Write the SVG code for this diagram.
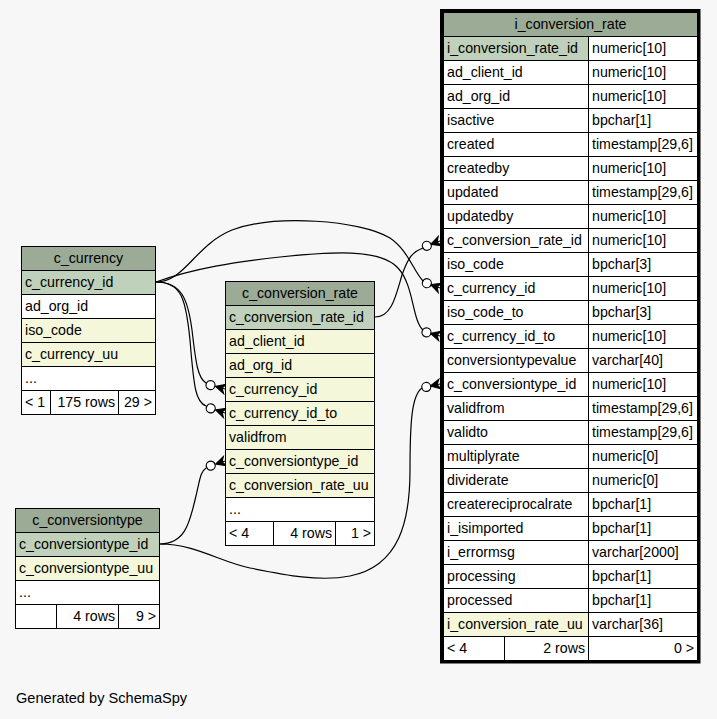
<svg xmlns="http://www.w3.org/2000/svg" width="717" height="719" viewBox="0 0 717 719">
<style>
.bg{fill:#f7f7f7}
rect.c{stroke:#000;stroke-width:1}
.h{fill:#9bab96}
.pk{fill:#bfd1bb}
.col{fill:#f4f7da}
.w{fill:#ffffff}
text{font-family:"Liberation Sans",Arial,sans-serif;font-size:14.2px;fill:#000}
.m{text-anchor:middle}
.r{text-anchor:end}
.e{fill:none;stroke:#000;stroke-width:1.2}
.dot{fill:#fff;stroke:#000;stroke-width:1.2}
</style>
<defs>
<g id="crow">
<path d="M0,-5 L-10,0 L0,5 L-3,0 Z M0,0 L-10,0" fill="#000" stroke="#000" stroke-width="1"/>
</g>
</defs>
<rect class="bg" x="0" y="0" width="717" height="719"/>

<g id="connectors">
<path class="e" d="M156,282 C182,282 188,300 192,330 C196,365 198,378 206,383"/>
<path class="e" d="M156,282 C182,282 186,300 190,340 C194,390 196,402 206,406"/>
<path class="e" d="M160,544 C186,544 190,520 195,500 C200,480 200,472 206,468"/>
<path class="e" d="M156,282 C185,282 195,245 232,230 C275,214 360,220 390,238 C408,250 414,272 423,281"/>
<path class="e" d="M156,282 C195,268 235,262 280,257 C330,252 380,248 398,268 C414,285 412,320 423,330"/>
<path class="e" d="M375,317 C392,317 396,295 402,275 C408,258 412,252 423,248"/>
<path class="e" d="M160,544 C195,544 220,562 250,568 C285,575 320,582 350,576 C400,566 410,520 410,470 C410,420 412,395 422,388"/>
<g transform="translate(225,389) rotate(15)"><use href="#crow"/><circle class="dot" cx="-15" cy="0" r="4.5"/></g>
<g transform="translate(225,413) rotate(18)"><use href="#crow"/><circle class="dot" cx="-15" cy="0" r="4.5"/></g>
<g transform="translate(225,461) rotate(-18)"><use href="#crow"/><circle class="dot" cx="-15" cy="0" r="4.5"/></g>
<g transform="translate(440,288) rotate(20)"><use href="#crow"/><circle class="dot" cx="-14" cy="0" r="4.5"/></g>
<g transform="translate(440,336) rotate(15)"><use href="#crow"/><circle class="dot" cx="-14" cy="0" r="4.5"/></g>
<g transform="translate(440,241) rotate(-20)"><use href="#crow"/><circle class="dot" cx="-14" cy="0" r="4.5"/></g>
<g transform="translate(440,384) rotate(-12)"><use href="#crow"/><circle class="dot" cx="-14" cy="0" r="4.5"/></g>
</g>

<g id="c_currency">
<rect class="c h" x="21.5" y="246.5" width="134" height="24"/>
<text class="m" x="88.5" y="263">c_currency</text>
<rect class="c pk" x="21.5" y="270.5" width="134" height="24"/>
<text x="25" y="287">c_currency_id</text>
<rect class="c w" x="21.5" y="294.5" width="134" height="24"/>
<text x="25" y="311">ad_org_id</text>
<rect class="c col" x="21.5" y="318.5" width="134" height="24"/>
<text x="25" y="335">iso_code</text>
<rect class="c col" x="21.5" y="342.5" width="134" height="24"/>
<text x="25" y="359">c_currency_uu</text>
<rect class="c w" x="21.5" y="366.5" width="134" height="24"/>
<text x="25" y="383">...</text>
<rect class="c w" x="21.5" y="390.5" width="29" height="24"/>
<rect class="c w" x="50.5" y="390.5" width="68" height="24"/>
<rect class="c w" x="118.5" y="390.5" width="37" height="24"/>
<text x="25" y="407">&lt; 1</text>
<text class="r" x="115" y="407">175 rows</text>
<text class="r" x="152" y="407">29 &gt;</text>
</g>

<g id="c_conversion_rate">
<rect class="c h" x="225.5" y="281.5" width="149" height="24"/>
<text class="m" x="300" y="298">c_conversion_rate</text>
<rect class="c pk" x="225.5" y="305.5" width="149" height="24"/>
<text x="229" y="322">c_conversion_rate_id</text>
<rect class="c col" x="225.5" y="329.5" width="149" height="24"/>
<text x="229" y="346">ad_client_id</text>
<rect class="c col" x="225.5" y="353.5" width="149" height="24"/>
<text x="229" y="370">ad_org_id</text>
<rect class="c col" x="225.5" y="377.5" width="149" height="24"/>
<text x="229" y="394">c_currency_id</text>
<rect class="c col" x="225.5" y="401.5" width="149" height="24"/>
<text x="229" y="418">c_currency_id_to</text>
<rect class="c col" x="225.5" y="425.5" width="149" height="24"/>
<text x="229" y="442">validfrom</text>
<rect class="c col" x="225.5" y="449.5" width="149" height="24"/>
<text x="229" y="466">c_conversiontype_id</text>
<rect class="c col" x="225.5" y="473.5" width="149" height="24"/>
<text x="229" y="490">c_conversion_rate_uu</text>
<rect class="c w" x="225.5" y="497.5" width="149" height="24"/>
<text x="229" y="514">...</text>
<rect class="c w" x="225.5" y="521.5" width="48" height="24"/>
<rect class="c w" x="273.5" y="521.5" width="62" height="24"/>
<rect class="c w" x="335.5" y="521.5" width="39" height="24"/>
<text x="229" y="538">&lt; 4</text>
<text class="r" x="332" y="538">4 rows</text>
<text class="r" x="371" y="538">1 &gt;</text>
</g>

<g id="c_conversiontype">
<rect class="c h" x="15.5" y="508.5" width="144" height="24"/>
<text class="m" x="87.5" y="525">c_conversiontype</text>
<rect class="c pk" x="15.5" y="532.5" width="144" height="24"/>
<text x="19" y="549">c_conversiontype_id</text>
<rect class="c col" x="15.5" y="556.5" width="144" height="24"/>
<text x="19" y="573">c_conversiontype_uu</text>
<rect class="c w" x="15.5" y="580.5" width="144" height="24"/>
<text x="19" y="597">...</text>
<rect class="c w" x="15.5" y="604.5" width="41" height="24"/>
<rect class="c w" x="56.5" y="604.5" width="62" height="24"/>
<rect class="c w" x="118.5" y="604.5" width="41" height="24"/>
<text class="r" x="115" y="621">4 rows</text>
<text class="r" x="156" y="621">9 &gt;</text>
</g>

<g id="i_conversion_rate">
<rect class="c h" x="443.5" y="12.5" width="254" height="24"/>
<text class="m" x="570.5" y="29">i_conversion_rate</text>
<rect class="c pk" x="443.5" y="36.5" width="145" height="24"/><rect class="c w" x="588.5" y="36.5" width="109" height="24"/>
<text x="447" y="53">i_conversion_rate_id</text><text x="592" y="53">numeric[10]</text>
<rect class="c w" x="443.5" y="60.5" width="145" height="24"/><rect class="c w" x="588.5" y="60.5" width="109" height="24"/>
<text x="447" y="77">ad_client_id</text><text x="592" y="77">numeric[10]</text>
<rect class="c w" x="443.5" y="84.5" width="145" height="24"/><rect class="c w" x="588.5" y="84.5" width="109" height="24"/>
<text x="447" y="101">ad_org_id</text><text x="592" y="101">numeric[10]</text>
<rect class="c w" x="443.5" y="108.5" width="145" height="24"/><rect class="c w" x="588.5" y="108.5" width="109" height="24"/>
<text x="447" y="125">isactive</text><text x="592" y="125">bpchar[1]</text>
<rect class="c w" x="443.5" y="132.5" width="145" height="24"/><rect class="c w" x="588.5" y="132.5" width="109" height="24"/>
<text x="447" y="149">created</text><text x="592" y="149">timestamp[29,6]</text>
<rect class="c w" x="443.5" y="156.5" width="145" height="24"/><rect class="c w" x="588.5" y="156.5" width="109" height="24"/>
<text x="447" y="173">createdby</text><text x="592" y="173">numeric[10]</text>
<rect class="c w" x="443.5" y="180.5" width="145" height="24"/><rect class="c w" x="588.5" y="180.5" width="109" height="24"/>
<text x="447" y="197">updated</text><text x="592" y="197">timestamp[29,6]</text>
<rect class="c w" x="443.5" y="204.5" width="145" height="24"/><rect class="c w" x="588.5" y="204.5" width="109" height="24"/>
<text x="447" y="221">updatedby</text><text x="592" y="221">numeric[10]</text>
<rect class="c w" x="443.5" y="228.5" width="145" height="24"/><rect class="c w" x="588.5" y="228.5" width="109" height="24"/>
<text x="447" y="245">c_conversion_rate_id</text><text x="592" y="245">numeric[10]</text>
<rect class="c w" x="443.5" y="252.5" width="145" height="24"/><rect class="c w" x="588.5" y="252.5" width="109" height="24"/>
<text x="447" y="269">iso_code</text><text x="592" y="269">bpchar[3]</text>
<rect class="c w" x="443.5" y="276.5" width="145" height="24"/><rect class="c w" x="588.5" y="276.5" width="109" height="24"/>
<text x="447" y="293">c_currency_id</text><text x="592" y="293">numeric[10]</text>
<rect class="c w" x="443.5" y="300.5" width="145" height="24"/><rect class="c w" x="588.5" y="300.5" width="109" height="24"/>
<text x="447" y="317">iso_code_to</text><text x="592" y="317">bpchar[3]</text>
<rect class="c w" x="443.5" y="324.5" width="145" height="24"/><rect class="c w" x="588.5" y="324.5" width="109" height="24"/>
<text x="447" y="341">c_currency_id_to</text><text x="592" y="341">numeric[10]</text>
<rect class="c w" x="443.5" y="348.5" width="145" height="24"/><rect class="c w" x="588.5" y="348.5" width="109" height="24"/>
<text x="447" y="365">conversiontypevalue</text><text x="592" y="365">varchar[40]</text>
<rect class="c w" x="443.5" y="372.5" width="145" height="24"/><rect class="c w" x="588.5" y="372.5" width="109" height="24"/>
<text x="447" y="389">c_conversiontype_id</text><text x="592" y="389">numeric[10]</text>
<rect class="c w" x="443.5" y="396.5" width="145" height="24"/><rect class="c w" x="588.5" y="396.5" width="109" height="24"/>
<text x="447" y="413">validfrom</text><text x="592" y="413">timestamp[29,6]</text>
<rect class="c w" x="443.5" y="420.5" width="145" height="24"/><rect class="c w" x="588.5" y="420.5" width="109" height="24"/>
<text x="447" y="437">validto</text><text x="592" y="437">timestamp[29,6]</text>
<rect class="c w" x="443.5" y="444.5" width="145" height="24"/><rect class="c w" x="588.5" y="444.5" width="109" height="24"/>
<text x="447" y="461">multiplyrate</text><text x="592" y="461">numeric[0]</text>
<rect class="c w" x="443.5" y="468.5" width="145" height="24"/><rect class="c w" x="588.5" y="468.5" width="109" height="24"/>
<text x="447" y="485">dividerate</text><text x="592" y="485">numeric[0]</text>
<rect class="c w" x="443.5" y="492.5" width="145" height="24"/><rect class="c w" x="588.5" y="492.5" width="109" height="24"/>
<text x="447" y="509">createreciprocalrate</text><text x="592" y="509">bpchar[1]</text>
<rect class="c w" x="443.5" y="516.5" width="145" height="24"/><rect class="c w" x="588.5" y="516.5" width="109" height="24"/>
<text x="447" y="533">i_isimported</text><text x="592" y="533">bpchar[1]</text>
<rect class="c w" x="443.5" y="540.5" width="145" height="24"/><rect class="c w" x="588.5" y="540.5" width="109" height="24"/>
<text x="447" y="557">i_errormsg</text><text x="592" y="557">varchar[2000]</text>
<rect class="c w" x="443.5" y="564.5" width="145" height="24"/><rect class="c w" x="588.5" y="564.5" width="109" height="24"/>
<text x="447" y="581">processing</text><text x="592" y="581">bpchar[1]</text>
<rect class="c w" x="443.5" y="588.5" width="145" height="24"/><rect class="c w" x="588.5" y="588.5" width="109" height="24"/>
<text x="447" y="605">processed</text><text x="592" y="605">bpchar[1]</text>
<rect class="c col" x="443.5" y="612.5" width="145" height="24"/><rect class="c w" x="588.5" y="612.5" width="109" height="24"/>
<text x="447" y="629">i_conversion_rate_uu</text><text x="592" y="629">varchar[36]</text>
<rect class="c w" x="443.5" y="636.5" width="61" height="24"/><rect class="c w" x="504.5" y="636.5" width="84" height="24"/><rect class="c w" x="588.5" y="636.5" width="109" height="24"/>
<text x="447" y="653">&lt; 4</text>
<text class="r" x="585" y="653">2 rows</text>
<text class="r" x="694" y="653">0 &gt;</text>
<rect x="441.5" y="10.5" width="257.5" height="651.5" fill="none" stroke="#000" stroke-width="3"/>
</g>

<text x="16" y="703" style="font-size:14.6px">Generated by SchemaSpy</text>
</svg>
